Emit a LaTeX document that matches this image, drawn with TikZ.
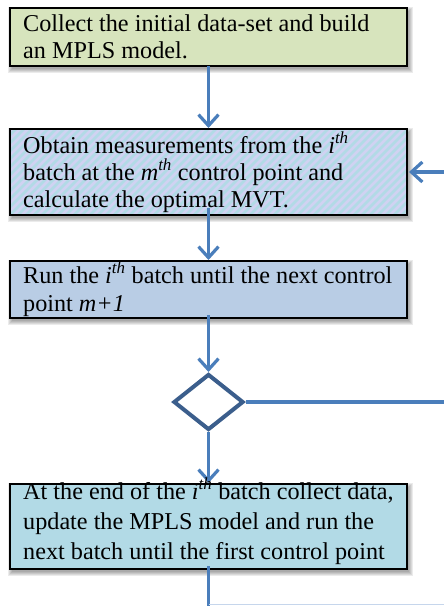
\documentclass[tikz,border=0pt]{standalone}
\usepackage{fontspec}
\setmainfont{Liberation Serif}
\usetikzlibrary{arrows.meta,shapes.geometric,backgrounds}

\definecolor{greenfill}{HTML}{D7E4BD}
\definecolor{aquafill}{HTML}{B2DAE6}
\definecolor{stripecol}{HTML}{D0D2F2}
\definecolor{bluefill}{HTML}{B9CDE5}
\definecolor{flowblue}{HTML}{4A7EBB}
\definecolor{diamondblue}{HTML}{3B5E8C}
\definecolor{faintblue}{HTML}{C6D6EC}

\tikzset{
  stepbox/.style={rectangle, inner sep=0pt, outer sep=0pt,
    minimum width=397pt, anchor=north west},
  boxborder/.style={draw=black, line width=2.2pt},
  stripe/.style={draw=stripecol, line width=2.6pt},
  boxtext/.style={anchor=base west, inner sep=0pt, font=\fontsize{24.2}{27}\selectfont},
  flow/.style={draw=flowblue, line width=3.2pt, -{Straight Barb[length=11pt,width=20pt]}},
  plainflow/.style={draw=flowblue, line width=3.2pt},
  decision/.style={diamond, draw=diamondblue, fill=white, line width=4pt,
    inner sep=0pt, minimum width=70pt, minimum height=56pt}
}

\newcommand{\nth}[1]{\textit{#1}\textsuperscript{\textit{th}}}

\begin{document}
\begin{tikzpicture}[x=1pt,y=-1pt]
  \useasboundingbox (0,0) rectangle (444,606);

  % process boxes (fill only; borders are stroked afterwards)
  \node[stepbox, fill=greenfill, minimum height=58pt] (b1) at (10,8) {};
  \node[stepbox, fill=aquafill, minimum height=86pt] (b2) at (10,129) {};
  \node[stepbox, fill=bluefill, minimum height=57pt] (b3) at (10,261) {};
  \node[stepbox, fill=aquafill, minimum height=85pt] (b4) at (10,484) {};

  % soft shadows under the boxes
  \begin{scope}[on background layer]
    \foreach \bx in {b1,b2,b3,b4}
      \foreach \e in {0,1,2,3,4}
        \fill[black, opacity=0.08]
          ([shift={(2-\e,3-\e)}]\bx.north west) rectangle ([shift={(2+\e,3+\e)}]\bx.south east);
  \end{scope}

  % diagonal hatching of the measurement box
  \begin{scope}
    \clip (b2.north west) rectangle (b2.south east);
    \foreach \k in {-100,-92,...,420}
      \draw[stripe] ([xshift=\k pt]b2.south west) -- ++(100,-100);
  \end{scope}

  % box borders
  \foreach \bx in {b1,b2,b3,b4}
    \draw[boxborder] (\bx.north west) rectangle (\bx.south east);

  % decision
  \node[decision] (d) at (208.5,402) {};

  % free ends at the picture border
  \coordinate (r1) at (446,172);
  \coordinate (r2) at (446,402);
  \coordinate (bot) at (208.5,607);
  \coordinate (fa) at (208.5,604.5);
  \coordinate (fb) at (446,604.5);

  % connectors
  \draw[flow] (b1.south) -- ([yshift=1pt]b2.north);
  \draw[flow] (r1) -- ([xshift=2pt]b2.east);
  \draw[flow] ([yshift=7pt]b2.south) -- ([yshift=1pt]b3.north);
  \draw[flow] ([yshift=3pt]b3.south) -- (d.north);
  \draw[plainflow] (d.east) -- (r2);
  \draw[flow] (d.south) -- ([yshift=1pt]b4.north);
  \draw[plainflow] ([yshift=3pt]b4.south) -- (bot);
  \draw[faintblue, line width=1pt] (fa) -- (fb);

  % box texts
  \node[boxtext] (t1) at (23,31) {\parbox[t]{390pt}{\raggedright
    Collect the initial data-set and build\\an MPLS model.}};
  \node[boxtext] (t2) at (23,153) {\parbox[t]{390pt}{\raggedright
    Obtain measurements from the \nth{i}\\batch at the \nth{m} control point and\\calculate the optimal MVT.}};
  \node[boxtext, font=\fontsize{24.2}{28}\selectfont] (t3) at (23,283) {\parbox[t]{390pt}{\raggedright
    Run the \nth{i} batch until the next control\\point \textit{m+1}}};
  \node[boxtext, font=\fontsize{24.2}{30}\selectfont] (t4) at (23,499) {\parbox[t]{390pt}{\raggedright
    At the end of the \nth{i} batch collect data,\\update the MPLS model and run the\\next batch until the first control point}};
\end{tikzpicture}
\end{document}
